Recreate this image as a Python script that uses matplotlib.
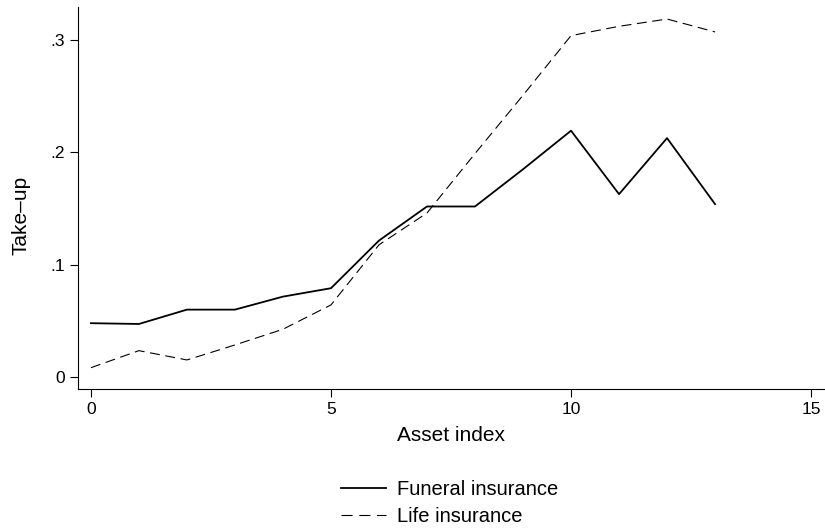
import matplotlib
matplotlib.use("Agg")
import matplotlib.pyplot as plt
import numpy as np

plt.rcParams["font.family"] = ["Liberation Sans", "DejaVu Sans"]

# Take-up by asset index
asset_index = [0, 1, 2, 3, 4, 5, 6, 7, 8, 9, 10, 11, 12, 13]
funeral = [0.0477, 0.047, 0.0598, 0.0598, 0.0714, 0.0789, 0.1214, 0.1518,
           0.1518, 0.185, 0.2194, 0.1628, 0.2128, 0.1539]
life = [0.008, 0.0232, 0.0149, 0.0283, 0.0423, 0.064, 0.1176, 0.146,
        0.199, 0.251, 0.3042, 0.3125, 0.319, 0.3075]

xticks = [0, 5, 10, 15]
yticks = [0, 0.1, 0.2, 0.3]
ytick_labels = ["0", ".1", ".2", ".3"]

fig = plt.figure(figsize=(8.25, 5.32), dpi=100)
ax = fig.add_axes([0.0945, 0.2688, 0.9055, 0.7186])

ax.plot(asset_index, funeral, color="black", linewidth=1.3, label="Funeral insurance")
ax.plot(asset_index, life, color="black", linewidth=0.8, dashes=(9, 5), label="Life insurance")

ax.set_xlim(-0.27, 15.29)
ax.set_ylim(-0.011, 0.330)
ax.set_xticks(xticks)
ax.set_yticks(yticks)
ax.set_yticklabels(ytick_labels)
ax.tick_params(labelsize=12.5, length=6, width=0.8, color="black")
ax.spines["top"].set_visible(False)
ax.spines["right"].set_visible(False)
ax.spines["left"].set_linewidth(0.8)
ax.spines["bottom"].set_linewidth(0.8)

ax.set_xlabel("Asset index", fontsize=15, labelpad=6)
ax.set_ylabel("Take\u2013up", fontsize=15)
ax.yaxis.set_label_coords(-0.064, 0.455)

leg = fig.legend(loc="center", bbox_to_anchor=(0.545, 0.054), frameon=False,
                 fontsize=14.5, handlelength=2.2, handletextpad=0.55, labelspacing=0.4)
leg.get_lines()[1].set_dashes((10, 6))

fig.savefig("out.png", dpi=100)
